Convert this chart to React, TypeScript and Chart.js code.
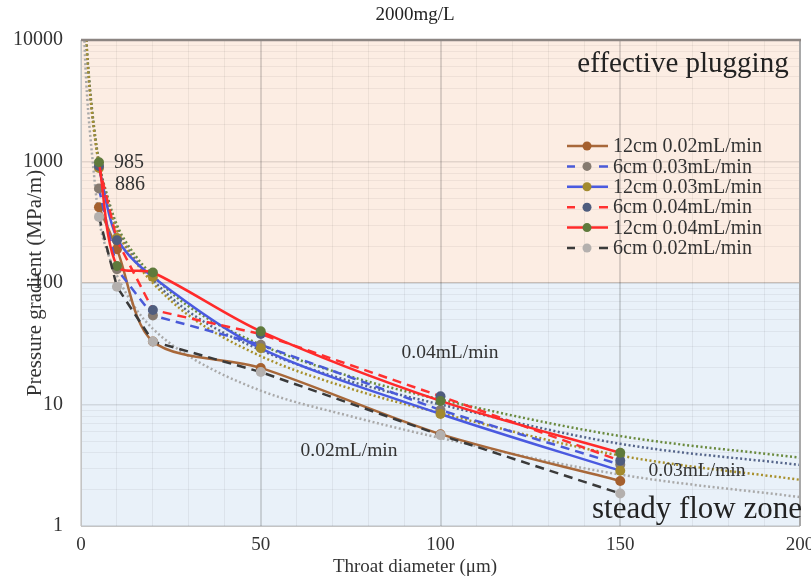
import React, { useEffect, useRef } from "react";
import { Chart, registerables } from "chart.js";

Chart.register(...registerables);

const FONT = "'Liberation Serif', 'Times New Roman', serif";

// ---- data ----
const xValues = [5, 10, 20, 50, 100, 150];
const seriesNames = [
  "12cm 0.02mL/min",
  "6cm 0.03mL/min",
  "12cm 0.03mL/min",
  "6cm 0.04mL/min",
  "12cm 0.04mL/min",
  "6cm 0.02mL/min",
];
const s12cm002 = [420, 190, 33, 20, 5.7, 2.35];
const s6cm003 = [600, 130, 54, 31, 9.0, 3.2];
const s12cm003 = [886, 235, 112, 29, 8.35, 2.85];
const s6cm004 = [920, 225, 60, 38, 11.7, 3.45];
const s12cm004 = [985, 138, 122, 40, 10.7, 4.0];
const s6cm002 = [350, 93, 33, 18.5, 5.6, 1.85];

const trendX = [0.5, 1, 1.5, 2, 3, 5, 7.5, 10, 15, 20, 30, 50, 75, 100, 150, 200];
const trendGreen = [60000, 22000, 10000, 6000, 2800, 1000, 500, 300, 170, 115, 64, 31, 17, 11, 5.5, 3.65];
const trendSlate = [55000, 20000, 9500, 5700, 2650, 950, 470, 280, 158, 106, 58, 28, 15.5, 10, 4.75, 3.18];
const trendOlive = [55000, 20000, 9300, 5500, 2600, 930, 460, 272, 152, 100, 54, 25, 13.5, 8.5, 3.8, 2.4];
const trendGray = [30000, 9000, 4300, 2600, 1200, 340, 175, 115, 63, 42, 25, 13, 8.0, 5.3, 2.65, 1.73];

const yTickValues: number[] = [];
[1, 10, 100, 1000].forEach((d) => {
  for (let k = 1; k <= 9; k++) yTickValues.push(d * k);
});
yTickValues.push(10000);
const yLabelValues = [1, 10, 100, 1000, 10000];
const xLabelValues = [0, 50, 100, 150, 200];

// ---- styles ----
const styles = [
  { line: "#a8683a", marker: "#a5602e", dash: [] as number[], tension: 0.3 },
  { line: "#4a5ad8", marker: "#857a70", dash: [9, 6], tension: 0 },
  { line: "#4a5ae0", marker: "#a38a2e", dash: [] as number[], tension: 0.3 },
  { line: "#ff3030", marker: "#4f5d7e", dash: [9, 6], tension: 0 },
  { line: "#ff2a2a", marker: "#5f7a3c", dash: [] as number[], tension: 0.3 },
  { line: "#3a3a3a", marker: "#b4b0ae", dash: [9, 6], tension: 0 },
];
const seriesData = [s12cm002, s6cm003, s12cm003, s6cm004, s12cm004, s6cm002];
const trends = [
  { data: trendGray, color: "#a9a9a9" },
  { data: trendOlive, color: "#a8902c" },
  { data: trendSlate, color: "#55658a" },
  { data: trendGreen, color: "#6a8a3e" },
];

const decorPlugin = {
  id: "decor",
  beforeDraw(chart: any) {
    const { ctx, chartArea, scales } = chart;
    const { left, right, top, bottom } = chartArea;
    const y100 = scales.y.getPixelForValue(100);
    ctx.save();
    ctx.fillStyle = "#fcede3";
    ctx.fillRect(left, top, right - left, y100 - top);
    ctx.fillStyle = "#e9f1f9";
    ctx.fillRect(left, y100, right - left, bottom - y100);
    ctx.restore();
  },
  afterDraw(chart: any) {
    const { ctx, chartArea } = chart;
    const { left, right, top, bottom } = chartArea;
    ctx.save();
    // borders
    ctx.lineWidth = 1;
    ctx.strokeStyle = "#c4c4c4";
    ctx.beginPath();
    ctx.moveTo(left + 0.5, top);
    ctx.lineTo(left + 0.5, bottom);
    ctx.moveTo(left, bottom + 0.5);
    ctx.lineTo(right, bottom + 0.5);
    ctx.stroke();
    ctx.strokeStyle = "#a9a9a9";
    ctx.lineWidth = 2;
    ctx.beginPath();
    ctx.moveTo(right, top);
    ctx.lineTo(right, bottom);
    ctx.stroke();
    ctx.strokeStyle = "#8c8582";
    ctx.lineWidth = 2.5;
    ctx.beginPath();
    ctx.moveTo(left, top);
    ctx.lineTo(right + 1, top);
    ctx.stroke();

    // title
    ctx.fillStyle = "#222";
    ctx.textAlign = "center";
    ctx.textBaseline = "middle";
    ctx.font = `19px ${FONT}`;
    ctx.fillText("2000mg/L", 415, 15);

    // x axis title
    ctx.fillStyle = "#333";
    ctx.font = `19px ${FONT}`;
    ctx.fillText("Throat diameter (μm)", 415, 567);

    // zone labels
    ctx.fillStyle = "#222";
    ctx.font = `29px ${FONT}`;
    ctx.fillText("effective plugging", 683, 64);
    ctx.font = `31px ${FONT}`;
    ctx.fillText("steady flow zone", 697, 510);

    ctx.font = `19.5px ${FONT}`;
    ctx.fillStyle = "#333";
    ctx.fillText("0.04mL/min", 450, 353);
    ctx.fillText("0.02mL/min", 349, 451);
    ctx.fillText("0.03mL/min", 697, 471);

    ctx.textAlign = "left";
    ctx.font = `20px ${FONT}`;
    ctx.fillText("985", 114, 163);
    ctx.fillText("886", 115, 185);

    // legend
    ctx.font = `20px ${FONT}`;
    seriesNames.forEach((name, i) => {
      const y = 146 + i * 20.4;
      const st = styles[i];
      ctx.strokeStyle = st.line;
      ctx.lineWidth = 2.5;
      ctx.beginPath();
      if (st.dash.length) {
        ctx.moveTo(567, y);
        ctx.lineTo(575, y);
        ctx.moveTo(599, y);
        ctx.lineTo(608, y);
      } else {
        ctx.moveTo(567, y);
        ctx.lineTo(608, y);
      }
      ctx.stroke();
      ctx.fillStyle = st.marker;
      ctx.beginPath();
      ctx.arc(587, y, 4.5, 0, Math.PI * 2);
      ctx.fill();
      ctx.fillStyle = "#333";
      ctx.textAlign = "left";
      ctx.fillText(name, 613, y + 1);
    });
    ctx.restore();
  },
};

export default function App() {
  const ref = useRef<HTMLCanvasElement | null>(null);
  useEffect(() => {
    document.body.style.margin = "0";
    const canvas = ref.current!;
    const datasets: any[] = [];
    trends.forEach((t) => {
      datasets.push({
        label: "trend",
        data: trendX.map((x, i) => ({ x, y: t.data[i] })),
        borderColor: t.color,
        borderWidth: 2.5,
        borderDash: [2, 2.5],
        pointRadius: 0,
        cubicInterpolationMode: "monotone",
        fill: false,
        order: 10,
      });
    });
    seriesData.forEach((d, i) => {
      const st = styles[i];
      datasets.push({
        label: seriesNames[i],
        data: xValues.map((x, j) => ({ x, y: d[j] })),
        borderColor: st.line,
        borderWidth: 2.5,
        borderDash: st.dash,
        tension: st.tension,
        pointRadius: 5,
        pointBackgroundColor: st.marker,
        pointBorderColor: st.marker,
        pointBorderWidth: 0,
        fill: false,
        order: 6 - i,
      });
    });

    const chart = new Chart(canvas, {
      type: "line",
      data: { datasets },
      plugins: [decorPlugin],
      options: {
        animation: false,
        responsive: false,
        devicePixelRatio: 1,
        layout: { padding: { top: 40, right: 11, left: 0, bottom: 0 } },
        plugins: {
          legend: { display: false },
          title: { display: false },
          tooltip: { enabled: false },
        },
        scales: {
          x: {
            type: "linear",
            min: 0,
            max: 200,
            ticks: {
              stepSize: 10,
              autoSkip: false,
              maxRotation: 0,
              padding: 8,
              color: "#333",
              font: { family: FONT, size: 19 },
              callback: (v: any) => (xLabelValues.includes(Number(v)) ? String(v) : ""),
            },
            grid: {
              drawTicks: false,
              color: (c: any) => (c.tick && c.tick.value % 50 === 0 ? "rgba(0,0,0,0.14)" : "rgba(0,0,0,0.055)"),
              lineWidth: (c: any) => (c.tick && c.tick.value % 50 === 0 ? 2 : 1),
            },
            border: { display: false },
            title: { display: false },
            afterFit: (s: any) => {
              s.height = 52;
              s.paddingLeft = 0;
              s.paddingRight = 0;
            },
          },
          y: {
            type: "logarithmic",
            min: 1,
            max: 10000,
            afterBuildTicks: (s: any) => {
              s.ticks = yTickValues.map((v) => ({ value: v }));
            },
            ticks: {
              autoSkip: false,
              padding: 18,
              color: "#333",
              font: { family: FONT, size: 20 },
              callback: (v: any) => (yLabelValues.includes(Number(v)) ? String(v) : ""),
            },
            grid: {
              drawTicks: false,
              color: (c: any) => {
                const v = c.tick ? c.tick.value : 0;
                if (v === 100) return "rgba(0,0,0,0.2)";
                return yLabelValues.includes(v) ? "rgba(0,0,0,0.1)" : "rgba(0,0,0,0.05)";
              },
              lineWidth: (c: any) => (c.tick && yLabelValues.includes(c.tick.value) ? 1.5 : 1),
            },
            border: { display: false },
            title: {
              display: true,
              text: "Pressure gradient (MPa/m)",
              color: "#333",
              font: { family: FONT, size: 21 },
              padding: { top: 23, bottom: 0 },
            },
            afterFit: (s: any) => {
              s.width = 81;
            },
          },
        },
      } as any,
    });
    return () => chart.destroy();
  }, []);
  return <canvas ref={ref} width={811} height={578} style={{ display: "block" }} />;
}
